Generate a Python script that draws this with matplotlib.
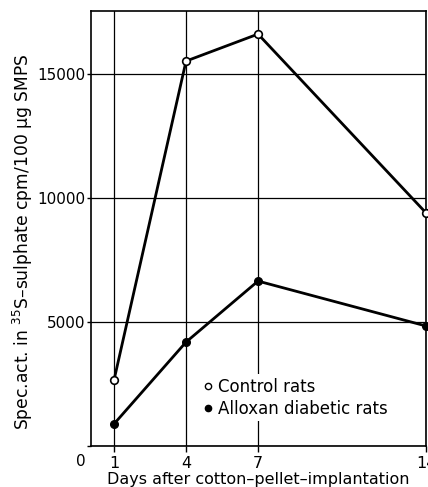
import matplotlib
matplotlib.use("Agg")
import matplotlib.pyplot as plt
from matplotlib.lines import Line2D
from matplotlib.transforms import ScaledTranslation

days = [1, 4, 7, 14]
control = [2660, 15520, 16610, 9400]
diabetic = [890, 4190, 6650, 4840]
xtick_labels = ["1", "4", "7", "14"]
yticks = [0, 5000, 10000, 15000]
ytick_labels = ["0", "5000", "10000", "15000"]

plt.rcParams['font.family'] = ['DejaVu Sans']

fig = plt.figure(figsize=(4.28, 4.87), dpi=100)
ax = fig.add_axes([91/428, 1-446/487, (426-91)/428, (446-11)/487])

ax.plot(days, control, color='black', lw=2.0, marker='o', ms=5.5,
        mfc='white', mec='black', mew=1.2, clip_on=False, zorder=3)
ax.plot(days, diabetic, color='black', lw=2.0, marker='o', ms=5.5,
        mfc='black', mec='black', clip_on=False, zorder=3)

ax.set_xlim(0.04, 14)
ax.set_ylim(0, 17540)
ax.set_xticks(days)
ax.set_xticklabels(xtick_labels, fontsize=11.5)
ax.set_yticks(yticks)
ax.set_yticklabels(ytick_labels, fontsize=11)
ax.tick_params(axis='y', direction='out', length=3, width=1, pad=1)
ax.tick_params(axis='x', direction='out', length=4, width=1, pad=3)
ax.grid(True, color='black', lw=0.9)
ax.set_axisbelow(True)
for s in ax.spines.values():
    s.set_linewidth(1.2)

# shift "0" label down to the x tick label row
lbl0 = ax.get_yticklabels()[0]
lbl0.set_transform(lbl0.get_transform() + ScaledTranslation(0, -14/100, fig.dpi_scale_trans))

ax.set_xlabel("Days after cotton\u2013pellet\u2013implantation", fontsize=11.5, labelpad=1)
ax.set_ylabel("Spec.act. in $^{35}$S\u2013sulphate cpm/100 \u03bcg SMPS", fontsize=12.3)
ax.yaxis.set_label_coords(-0.168, 0.47)

handles = [Line2D([], [], ls='none', marker='o', ms=4.5, mfc='white', mec='black', mew=1),
           Line2D([], [], ls='none', marker='o', ms=4.5, mfc='black', mec='black')]
leg = ax.legend(handles, ["Control rats", "Alloxan diabetic rats"], loc='upper left',
                bbox_to_anchor=((192-91)/335, (446-366)/435), frameon=True, fontsize=12,
                handlelength=0.5, handletextpad=0.35, borderpad=0.2, labelspacing=0.25,
                framealpha=1)
leg.get_frame().set_edgecolor('none')

fig.savefig("out.png", dpi=100)
